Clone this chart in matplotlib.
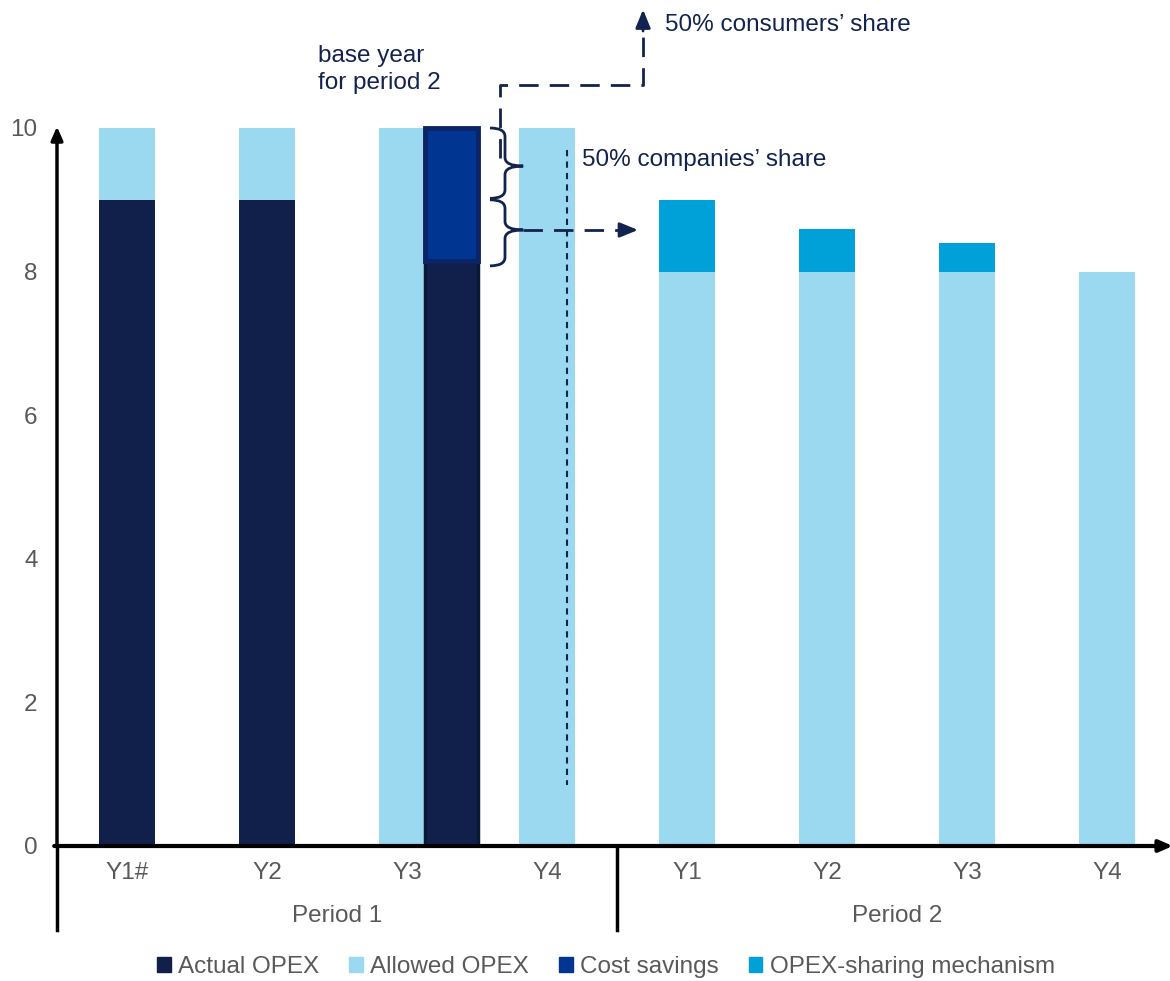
import numpy as np
import matplotlib
matplotlib.use("Agg")
import matplotlib.pyplot as plt
from matplotlib.patches import Patch, PathPatch
from matplotlib.path import Path

plt.rcParams["font.family"] = ["Liberation Sans", "DejaVu Sans"]

# data
categories = ["Y1#", "Y2", "Y3", "Y4", "Y1", "Y2", "Y3", "Y4"]
periods = ["Period 1", "Period 2"]
allowed_opex = [10, 10, 10, 10, 8, 8, 8, 8]
actual_opex = [9, 9, 0, 0, 0, 0, 0, 0]
sharing_mech = [0, 0, 0, 0, 1.0, 0.6, 0.4, 0]
base_year_actual = 8.15
base_year_savings = 1.85
y_ticks = [0, 2, 4, 6, 8, 10]

c_actual = "#11204a"
c_allowed = "#9bd9f0"
c_savings = "#003591"
c_sharing = "#00a0d8"
c_text = "#595959"
c_note = "#13234f"
fs = 17.5

fig = plt.figure(figsize=(11.7, 9.81), dpi=100)
ax = fig.add_axes([57 / 1170, 135 / 981, 1113 / 1170, 718 / 981])
x = np.arange(len(categories))
w = 0.4

ax.bar(x, allowed_opex, w, color=c_allowed, zorder=2)
ax.bar(x, actual_opex, w, color=c_actual, zorder=3)
ax.bar(x, sharing_mech, w, bottom=allowed_opex, color=c_sharing, zorder=3)

# base year bar (Y3 of period 1), shifted right
xb = 2 + 0.32
ax.bar(xb, base_year_actual, w * 0.95, color=c_actual, edgecolor="#0a1838",
       linewidth=2.5, zorder=4)
ax.bar(xb, base_year_savings, w * 0.95, bottom=base_year_actual, color=c_savings,
       edgecolor="#0c2466", linewidth=3.5, zorder=4, clip_on=False)

ax.set_xlim(-0.5, 7.45)
ax.set_ylim(0, 10)
for s in ax.spines.values():
    s.set_visible(False)
ax.set_xticks([])
ax.set_yticks(y_ticks)
ax.set_yticklabels([str(t) for t in y_ticks], fontsize=fs, color=c_text)
ax.tick_params(axis="y", length=0, pad=14)

# axes arrows
ax.annotate("", xy=(-0.5, 10.02), xytext=(-0.5, 0), annotation_clip=False,
            arrowprops=dict(arrowstyle="-|>,head_width=0.35,head_length=0.8",
                            color="black", lw=2.5, shrinkA=0, shrinkB=0))
ax.annotate("", xy=(7.47, 0), xytext=(-0.52, 0), annotation_clip=False,
            arrowprops=dict(arrowstyle="-|>,head_width=0.35,head_length=0.8",
                            color="black", lw=3, shrinkA=0, shrinkB=0), zorder=6)

# category and period labels
for i, c in enumerate(categories):
    ax.text(i, -0.38, c, ha="center", va="center", fontsize=fs, color=c_text,
            clip_on=False)
for xs in (-0.5, 3.5):
    ax.plot([xs, xs], [0, -1.17], color="black", lw=2.5, clip_on=False)
ax.text(1.5, -0.98, periods[0], ha="center", va="center", fontsize=fs,
        color=c_text, clip_on=False)
ax.text(5.5, -0.98, periods[1], ha="center", va="center", fontsize=fs,
        color=c_text, clip_on=False)


def brace(x0, xm, xt, ytop, ybot, ymid, r=0.12):
    verts = [(x0, ytop), (xm, ytop), (xm, ytop - r), (xm, ytop - r),
             (xm, ymid + r), (xm, ymid + r), (xm, ymid), (xt, ymid),
             (xm, ymid), (xm, ymid - r), (xm, ymid - r),
             (xm, ybot + r), (xm, ybot + r), (xm, ybot), (x0, ybot)]
    codes = [Path.MOVETO, Path.CURVE3, Path.CURVE3, Path.LINETO,
             Path.LINETO, Path.LINETO, Path.CURVE3, Path.CURVE3,
             Path.CURVE3, Path.CURVE3, Path.LINETO,
             Path.LINETO, Path.LINETO, Path.CURVE3, Path.CURVE3]
    ax.add_patch(PathPatch(Path(verts, codes), fill=False, edgecolor=c_note,
                           lw=2, clip_on=False, zorder=5))


brace(2.593, 2.70, 2.83, 10.0, 9.02, 9.47)
brace(2.593, 2.70, 2.83, 9.0, 8.08, 8.58)

dash = (0, (7, 4))
# companies' share arrow
ax.plot([2.83, 3.56], [8.58, 8.58], color=c_note, lw=2, linestyle=dash,
        clip_on=False, zorder=5)
ax.annotate("", xy=(3.65, 8.58), xytext=(3.54, 8.58), annotation_clip=False,
            arrowprops=dict(arrowstyle="-|>,head_width=0.45,head_length=1.1",
                            color=c_note, lw=2, shrinkA=0, shrinkB=0))
# consumers' share arrow
ax.plot([2.664, 2.664, 3.686, 3.686], [9.58, 10.6, 10.6, 11.35], color=c_note,
        lw=2, linestyle=dash, clip_on=False, zorder=5)
ax.annotate("", xy=(3.686, 11.65), xytext=(3.686, 11.35), annotation_clip=False,
            arrowprops=dict(arrowstyle="-|>,head_width=0.45,head_length=1.1",
                            color=c_note, lw=2, shrinkA=0, shrinkB=0))
# vertical dashed line
ax.plot([3.143, 3.143], [9.69, 0.85], color=c_note, lw=1.5,
        linestyle=(0, (3, 2.5)), zorder=5)

ax.text(3.25, 9.55, "50% companies\u2019 share", fontsize=fs, color=c_note,
        va="center", ha="left", clip_on=False)
ax.text(3.843, 11.43, "50% consumers\u2019 share", fontsize=fs, color=c_note,
        va="center", ha="left", clip_on=False)
ax.text(1.364, 10.81, "base year\nfor period 2", fontsize=fs, color=c_note,
        va="center", ha="left", linespacing=1.3, clip_on=False)

handles = [Patch(color=c_actual, label="Actual OPEX"),
           Patch(color=c_allowed, label="Allowed OPEX"),
           Patch(color=c_savings, label="Cost savings"),
           Patch(color=c_sharing, label="OPEX-sharing mechanism")]
leg = fig.legend(handles=handles, loc="center", bbox_to_anchor=(0.518, 0.0143),
                 ncol=4, frameon=False, fontsize=fs, handlelength=0.55,
                 handleheight=0.55, handletextpad=0.3, columnspacing=1.25)
for t in leg.get_texts():
    t.set_color(c_text)

fig.savefig("out.png", dpi=100)
